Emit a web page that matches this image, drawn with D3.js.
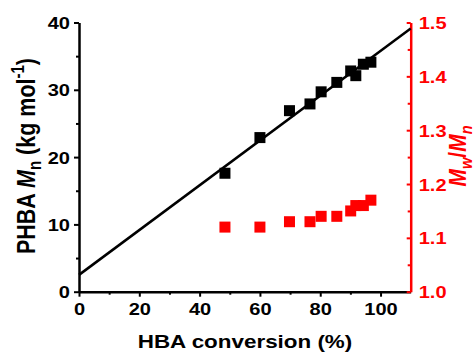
<!DOCTYPE html>
<html>
<head>
<meta charset="utf-8">
<script src="https://cdn.jsdelivr.net/npm/d3@7"></script>
<style>
  body { margin: 0; background: #fff; }
  text { font-family: "Liberation Sans", Arial, sans-serif; font-weight: bold; }
</style>
</head>
<body>
<div id="chart"></div>
<script>
// HBA conversion (%) for each sample
var conversion = [48.4, 60.0, 69.8, 76.6, 80.3, 85.5, 90.1, 91.8, 94.3, 96.8];
// PHBA Mn (kg/mol), left axis
var mn = [17.6, 22.9, 26.9, 27.9, 29.7, 31.1, 32.8, 32.1, 33.8, 34.1];
// dispersity Mw/Mn, right axis
var dispersity = [1.12, 1.12, 1.13, 1.13, 1.14, 1.14, 1.15, 1.16, 1.16, 1.17];
// linear fit drawn across the whole x range
var fitX = [0, 110];
var fitY = [2.5, 39.1];

var xTicks = [0, 20, 40, 60, 80, 100];
var yTicks = [0, 10, 20, 30, 40];
var y2Ticks = [1.0, 1.1, 1.2, 1.3, 1.4, 1.5];

var width = 475, height = 353;
var SX = 1.18; // the picture's text is a bit wider than it is tall
var red = "#ff0000";

var svg = d3.select("#chart").append("svg")
    .attr("width", width)
    .attr("height", height);

var x = d3.scaleLinear().domain([0, 110]).range([79, 410.7]);
var y = d3.scaleLinear().domain([0, 40]).range([291.7, 22.5]);
var y2 = d3.scaleLinear().domain([1.0, 1.5]).range([291.7, 22.5]);

// minor ticks first, labels off
svg.append("g")
    .attr("transform", "translate(" + x.range()[0] + ",0)")
    .call(d3.axisLeft(y).tickValues(d3.range(5, 40, 10)).tickSize(3).tickFormat(""))
    .call(function(g) { g.select(".domain").remove(); g.selectAll("line").attr("stroke-width", 2); });

svg.append("g")
    .attr("transform", "translate(0," + y.range()[0] + ")")
    .call(d3.axisBottom(x).tickValues(d3.range(10, 110, 20)).tickSize(3).tickFormat(""))
    .call(function(g) { g.select(".domain").remove(); g.selectAll("line").attr("stroke-width", 2); });

svg.append("g")
    .attr("transform", "translate(" + x.range()[1] + ",0)")
    .call(d3.axisRight(y2).tickValues([1.05, 1.15, 1.25, 1.35, 1.45]).tickSize(-3).tickFormat(""))
    .call(function(g) { g.select(".domain").remove(); g.selectAll("line").attr("stroke", red).attr("stroke-width", 2); });

// left axis
var yAxis = svg.append("g")
    .attr("transform", "translate(" + x.range()[0] + ",0)")
    .call(d3.axisLeft(y).tickValues(yTicks).tickSizeInner(5).tickSizeOuter(0).tickPadding(4));
yAxis.select(".domain").attr("stroke-width", 2.5);
yAxis.selectAll("line").attr("stroke-width", 2);
yAxis.selectAll("text")
    .attr("font-size", 17)
    .attr("fill", "#000")
    .attr("x", -9 / SX)
    .attr("dy", "0.36em")
    .attr("transform", "scale(" + SX + ",1)");

// bottom axis
var xAxis = svg.append("g")
    .attr("transform", "translate(0," + y.range()[0] + ")")
    .call(d3.axisBottom(x).tickValues(xTicks).tickSizeInner(5).tickSizeOuter(0).tickPadding(6));
xAxis.select(".domain").attr("stroke-width", 2.5);
xAxis.selectAll("line").attr("stroke-width", 2);
xAxis.selectAll("text")
    .attr("font-size", 17)
    .attr("fill", "#000")
    .attr("transform", "scale(" + SX + ",1)");

// right axis in red
var y2Axis = svg.append("g")
    .attr("transform", "translate(" + x.range()[1] + ",0)")
    .call(d3.axisRight(y2).tickValues(y2Ticks).tickSizeInner(-4).tickSizeOuter(0).tickPadding(8)
        .tickFormat(d3.format(".1f")));
y2Axis.select(".domain").attr("stroke", red).attr("stroke-width", 2.5);
y2Axis.selectAll("line").attr("stroke", red).attr("stroke-width", 2);
y2Axis.selectAll("text")
    .attr("font-size", 17)
    .attr("fill", red)
    .attr("x", 8 / SX)
    .attr("dy", "0.36em")
    .attr("transform", "scale(" + SX + ",1)");

// fit line
svg.append("path")
    .datum(d3.zip(fitX, fitY))
    .attr("d", d3.line().x(function(d) { return x(d[0]); }).y(function(d) { return y(d[1]); }))
    .attr("fill", "none")
    .attr("stroke", "#000")
    .attr("stroke-width", 2.5);

var s = 11;
svg.append("g").selectAll("rect")
    .data(d3.zip(conversion, mn))
    .enter().append("rect")
    .attr("x", function(d) { return x(d[0]) - s / 2; })
    .attr("y", function(d) { return y(d[1]) - s / 2; })
    .attr("width", s).attr("height", s)
    .attr("fill", "#000");

svg.append("g").selectAll("rect")
    .data(d3.zip(conversion, dispersity))
    .enter().append("rect")
    .attr("x", function(d) { return x(d[0]) - s / 2; })
    .attr("y", function(d) { return y2(d[1]) - s / 2; })
    .attr("width", s).attr("height", s)
    .attr("fill", red);

// x title
svg.append("text")
    .attr("transform", "translate(245,348) scale(" + SX + ",1)")
    .attr("text-anchor", "middle")
    .attr("font-size", 19)
    .text("HBA conversion (%)");

// y title
var yt = svg.append("text")
    .attr("transform", "translate(35,156) scale(" + SX + ",1) rotate(-90)")
    .attr("text-anchor", "middle")
    .attr("font-size", 21.5);
yt.append("tspan").text("PHBA ");
yt.append("tspan").attr("font-style", "italic").text("M");
yt.append("tspan").attr("font-size", "70%").attr("dy", "0.35em").text("n");
yt.append("tspan").attr("dy", "-0.245em").text(" (kg mol");
yt.append("tspan").attr("font-size", "70%").attr("dy", "-0.6em").text("-1");
yt.append("tspan").attr("dy", "0.42em").text(")");

// right title
var rt = svg.append("text")
    .attr("transform", "translate(466,156) scale(" + SX + ",1) rotate(-90)")
    .attr("text-anchor", "middle")
    .attr("font-size", 21)
    .attr("fill", red);
rt.append("tspan").attr("font-style", "italic").text("M");
rt.append("tspan").attr("font-size", "70%").attr("font-style", "italic").attr("dy", "0.35em").text("w");
rt.append("tspan").attr("dy", "-0.245em").text("/");
rt.append("tspan").attr("font-style", "italic").text("M");
rt.append("tspan").attr("font-size", "70%").attr("font-style", "italic").attr("dy", "0.35em").text("n");
</script>
</body>
</html>
